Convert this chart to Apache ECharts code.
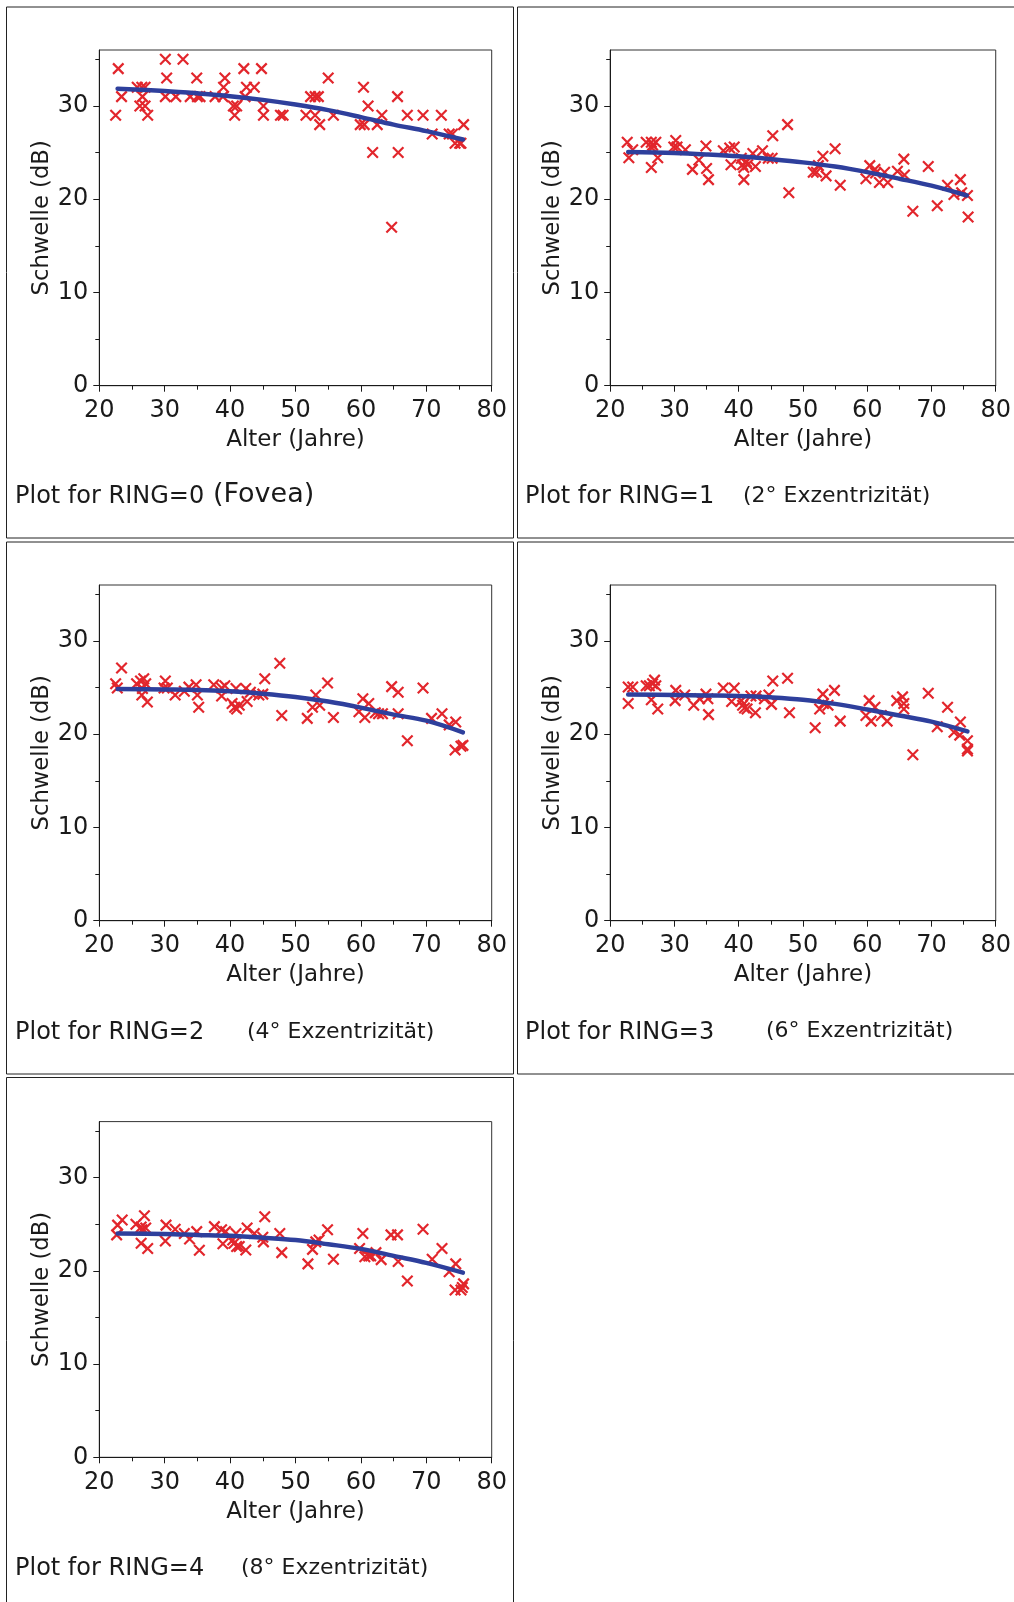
<!DOCTYPE html>
<html>
<head>
<meta charset="utf-8">
<script src="https://cdn.jsdelivr.net/npm/echarts@6/dist/echarts.min.js"></script>
<style>
  html, body { margin: 0; padding: 0; background: #fff; }
  #chart { width: 1014px; height: 1602px; }
</style>
</head>
<body>
<div id="chart"></div>
<script>
// Threshold (dB) against age (years) for each ring of the visual field.
const xTicks = [20, 30, 40, 50, 60, 70, 80];
const yTicks = [0, 10, 20, 30];
const yMinorTicks = [5, 15, 25, 35];

const ringLabels = ['Plot for RING=0', 'Plot for RING=1', 'Plot for RING=2', 'Plot for RING=3', 'Plot for RING=4'];
const ringNotes = ['(Fovea)', '(2° Exzentrizität)', '(4° Exzentrizität)', '(6° Exzentrizität)', '(8° Exzentrizität)'];

// measured points [age, threshold]
const ring0 = [[22.5,29],[22.9,34],[23.4,31],[25.8,32],[26.5,32],[27.0,32],[26.6,31],[26.2,30],[27.0,30],[27.4,29],
  [30.1,35],[30.3,33],[30.1,31],[31.7,31],[32.8,35],[33.9,31],[34.9,33],[35.0,31],[35.4,31],[37.7,31],
  [39.2,33],[39.0,32],[38.9,31],[40.5,30],[41.0,30],[40.7,29],[42.1,34],[42.5,32],[43.7,32],[42.3,31],
  [44.8,34],[45.1,30],[45.1,29],[47.7,29],[48.1,29],[51.6,29],[52.3,31],[53.0,31],[53.5,31],[53.0,29],
  [53.7,28],[55.0,33],[55.8,29],[59.9,28],[60.5,28],[60.4,32],[61.1,30],[61.8,25],[62.5,28],[63.2,29],
  [64.7,17],[65.6,31],[65.7,25],[67.1,29],[69.5,29],[70.9,27],[72.3,29],[73.5,27],[74.0,27],[74.4,26],
  [75.1,26],[75.7,28],[75.3,26]];

const ring1 = [[22.65,26.1],[22.9,24.45],[23.5,25.3],[25.6,26.1],[26.4,26.1],[26.6,25.8],[27.1,26.1],[26.5,25.5],
  [27.4,24.45],[26.4,23.4],[30.2,26.3],[29.9,25.6],[30.4,25.6],[31.7,25.3],[32.8,23.2],[33.8,24.2],[34.9,25.7],
  [35.0,23.3],[35.3,22.1],[37.6,25.2],[38.6,25.5],[39.3,25.6],[38.8,23.7],[40.4,24.4],[40.6,23.7],[41.2,24.0],
  [40.8,23.4],[40.8,22.1],[41.4,23.7],[42.2,24.9],[42.6,23.5],[43.7,25.2],[44.6,24.4],[45.2,24.4],[45.3,26.8],
  [47.6,28.0],[47.8,20.7],[51.6,22.9],[52.1,22.9],[52.4,23.6],[53.1,24.6],[53.6,22.5],[55.0,25.4],[55.8,21.5],
  [59.8,22.2],[60.4,23.6],[61.2,23.2],[61.3,22.8],[61.9,21.8],[62.7,22.9],[63.2,21.8],[64.7,23.0],[65.7,24.3],
  [65.8,22.6],[67.1,18.7],[69.5,23.5],[70.9,19.3],[72.5,21.5],[73.5,20.5],[74.5,22.1],[74.7,20.7],[75.6,20.4],
  [75.7,18.1]];

const ring2 = [[22.5,25.4],[22.75,24.95],[23.4,27.1],[25.7,25.4],[26.3,25.7],[26.8,25.95],[27.1,25.4],[26.5,24.2],
  [27.35,23.45],[26.6,24.9],[30.1,25.7],[29.9,24.95],[30.4,24.95],[31.6,24.2],[33.0,24.6],[33.7,25.05],[34.8,25.3],
  [35.0,24.2],[35.2,22.9],[37.5,25.3],[38.7,24.95],[39.2,25.2],[38.7,24.1],[40.3,23.3],[40.7,22.9],[41.0,22.7],
  [40.9,24.9],[41.4,23.1],[42.4,24.9],[42.6,23.5],[43.1,24.5],[44.4,24.2],[45.0,24.3],[45.3,25.95],[47.6,27.6],
  [47.9,22.0],[51.8,21.7],[52.6,22.9],[53.1,24.2],[53.7,23.1],[54.9,25.5],[55.8,21.8],[59.7,22.4],[60.3,23.8],
  [60.6,21.8],[61.2,23.3],[62.2,22.3],[62.7,22.2],[63.3,22.2],[64.7,25.1],[65.7,24.5],[65.7,22.2],[67.1,19.3],
  [69.5,24.95],[70.8,21.7],[72.4,22.2],[73.5,21.0],[74.4,18.3],[74.5,21.3],[75.3,18.7],[75.6,18.8]];

const ring3 = [[22.8,25.06],[23.5,25.06],[22.8,23.3],[25.6,25.2],[26.1,25.2],[26.6,25.4],[27.1,25.2],[26.9,25.8],
  [26.4,23.7],[27.4,22.7],[30.2,24.7],[30.1,23.6],[31.6,24.2],[33.0,23.1],[33.9,23.8],[34.9,24.3],[35.2,23.8],
  [35.3,22.1],[37.6,24.95],[39.3,24.95],[38.9,23.5],[40.4,23.6],[40.6,23.1],[40.9,22.8],[41.3,22.7],[41.9,24.1],
  [42.7,24.1],[42.6,22.3],[44.0,23.8],[44.7,24.2],[45.1,23.2],[45.3,25.7],[47.6,26.0],[47.9,22.3],[51.9,20.7],
  [52.6,22.7],[53.1,24.3],[53.2,23.3],[53.9,23.1],[54.9,24.7],[55.8,21.4],[59.8,22.0],[60.3,23.6],[60.6,21.4],
  [61.2,22.9],[62.2,22.0],[63.1,21.4],[64.6,23.6],[65.5,24.0],[65.7,23.3],[65.7,22.7],[67.1,17.8],[69.5,24.4],
  [70.9,20.8],[72.5,22.9],[73.5,20.2],[74.5,21.3],[74.4,19.9],[75.6,19.3],[75.6,18.4],[75.6,18.2]];

const ring4 = [[22.8,24.9],[22.65,23.85],[23.5,25.45],[25.6,25.0],[26.4,24.7],[26.9,25.9],[27.1,24.6],[26.5,24.4],
  [26.4,22.95],[27.4,22.4],[30.2,24.9],[30.1,23.2],[31.6,24.45],[33.0,24.0],[33.8,23.4],[34.9,24.2],[35.3,22.2],
  [37.6,24.74],[38.7,24.4],[39.3,24.2],[38.9,22.9],[40.4,23.3],[40.6,22.95],[41.0,22.6],[40.9,24.0],[41.4,22.6],
  [42.6,24.6],[42.4,22.24],[43.7,24.0],[45.0,23.6],[45.1,23.1],[45.3,25.8],[47.6,24.0],[47.9,21.95],[51.9,20.74],
  [52.6,22.3],[53.1,23.1],[53.6,23.3],[54.9,24.4],[55.8,21.24],[59.8,22.4],[60.3,24.0],[60.6,21.5],[61.2,21.6],
  [61.5,21.6],[62.3,21.95],[63.1,21.2],[64.6,23.85],[65.6,23.85],[65.7,21.0],[67.1,18.9],[69.5,24.45],[70.9,21.24],
  [72.4,22.4],[73.5,19.9],[74.5,20.74],[74.4,17.95],[75.3,17.95],[75.7,18.6],[75.5,18.2]];

// fitted trend for each ring [age, threshold]
const fit0 = [[22.8,31.85],[30,31.6],[35,31.35],[40,31.05],[45,30.65],[50,30.15],[55,29.55],[60,28.8],[65,28.0],[70,27.3],[75.6,26.4]];
const fit1 = [[22.8,25.05],[30,24.95],[35,24.8],[40,24.6],[45,24.3],[50,23.95],[55,23.5],[60,22.9],[65,22.2],[70,21.45],[75.5,20.4]];
const fit2 = [[22.8,24.85],[30,24.8],[35,24.75],[40,24.6],[45,24.35],[50,24.0],[55,23.5],[60,22.85],[65,22.1],[70,21.45],[75.6,20.2]];
const fit3 = [[22.8,24.25],[30,24.2],[35,24.15],[40,24.1],[45,23.95],[50,23.7],[55,23.25],[60,22.65],[65,22.0],[70,21.35],[75.6,20.3]];
const fit4 = [[22.8,24.0],[30,23.95],[35,23.85],[40,23.75],[45,23.55],[50,23.3],[55,22.85],[60,22.35],[65,21.6],[70,20.85],[75.6,19.8]];

const ringData = [ring0, ring1, ring2, ring3, ring4];
const ringFits = [fit0, fit1, fit2, fit3, fit4];

// ---- layout ----
const FONT = 'DejaVu Sans';
const INK = '#1a1a1a';
const plotW = 392.4, plotH = 335.7;
const plotPos = [[99.3, 50], [610.2, 50], [99.3, 585], [610.2, 585], [99.3, 1121.6]];
const boxes = [[6.5, 7, 507, 531], [517.5, 7, 510, 531], [6.5, 542, 507, 532], [517.5, 542, 510, 532], [6.5, 1077.5, 507, 540]];
const labelPos = [[15, 497], [525, 497], [15, 1033], [525, 1033], [15, 1569]];
const notePos = [[213, 495, 27], [743, 496, 22], [247, 1032, 22], [766, 1031, 22], [241, 1568, 22]];

const grids = [], xAxes = [], yAxes = [], series = [], graphics = [];
const tickStyle = { color: INK, width: 1 };

plotPos.forEach((p, i) => {
  grids.push({ left: p[0], top: p[1], width: plotW, height: plotH, show: true,
    borderColor: '#333', borderWidth: 1, backgroundColor: '#fff', containLabel: false });

  xAxes.push({
    type: 'value', gridIndex: i, min: 20, max: 80, interval: 10,
    name: 'Alter (Jahre)', nameLocation: 'middle', nameGap: 43,
    nameTextStyle: { fontFamily: FONT, fontSize: 23, color: INK },
    axisLine: { show: true, onZero: false, lineStyle: { color: INK, width: 1 } },
    axisTick: { show: true, length: 6, lineStyle: tickStyle },
    minorTick: { show: true, splitNumber: 2, length: 4, lineStyle: tickStyle },
    axisLabel: { fontFamily: FONT, fontSize: 24, color: INK, margin: 13,
      customValues: xTicks },
    splitLine: { show: false }
  });

  // labelled axis with major ticks
  yAxes.push({
    type: 'value', gridIndex: i, position: 'left', min: 0, max: 36, interval: 10,
    name: 'Schwelle (dB)', nameLocation: 'middle', nameGap: 44, nameRotate: 90,
    nameTextStyle: { fontFamily: FONT, fontSize: 22.7, color: INK },
    axisLine: { show: true, onZero: false, lineStyle: { color: INK, width: 1 } },
    axisTick: { show: true, length: 6, lineStyle: tickStyle, customValues: yTicks },
    axisLabel: { fontFamily: FONT, fontSize: 24, color: INK, margin: 11,
      customValues: yTicks },
    splitLine: { show: false }
  });
  // short ticks between the labelled ones
  yAxes.push({
    type: 'value', gridIndex: i, position: 'left', offset: 0, min: 0, max: 36, interval: 10,
    axisLine: { show: false },
    axisTick: { show: true, length: 4, lineStyle: tickStyle, customValues: yMinorTicks },
    axisLabel: { show: false },
    splitLine: { show: false }
  });

  series.push({
    type: 'scatter', xAxisIndex: i, yAxisIndex: 2 * i,
    data: ringData[i],
    symbol: 'path://M0,0L10,10M10,0L0,10',
    symbolSize: 10.5,
    itemStyle: { color: 'rgba(0,0,0,0)', borderColor: '#e2262c', borderWidth: 2.2, opacity: 1 },
    emphasis: { disabled: true },
    z: 3
  });
  series.push({
    type: 'line', xAxisIndex: i, yAxisIndex: 2 * i,
    data: ringFits[i],
    smooth: 0.35, showSymbol: false, symbol: 'none',
    lineStyle: { color: '#2e3f9c', width: 4.5, cap: 'round' },
    emphasis: { disabled: true },
    z: 4
  });

  const b = boxes[i];
  graphics.push({ type: 'rect', silent: true, z: -10,
    shape: { x: b[0], y: b[1], width: b[2], height: b[3] },
    style: { fill: null, stroke: '#222', lineWidth: 1 } });

  graphics.push({ type: 'text', silent: true, x: labelPos[i][0], y: labelPos[i][1],
    style: { text: ringLabels[i], fontFamily: FONT, fontSize: 24, fill: INK,
      textAlign: 'left', textVerticalAlign: 'middle' } });
  graphics.push({ type: 'text', silent: true, x: notePos[i][0], y: notePos[i][1],
    style: { text: ringNotes[i], fontFamily: FONT, fontSize: notePos[i][2], fill: INK,
      textAlign: 'left', textVerticalAlign: 'middle' } });
});

const chart = echarts.init(document.getElementById('chart'), null, { renderer: 'canvas' });
chart.setOption({
  backgroundColor: '#fff',
  animation: false,
  grid: grids,
  xAxis: xAxes,
  yAxis: yAxes,
  series: series,
  graphic: graphics
});
</script>
</body>
</html>
